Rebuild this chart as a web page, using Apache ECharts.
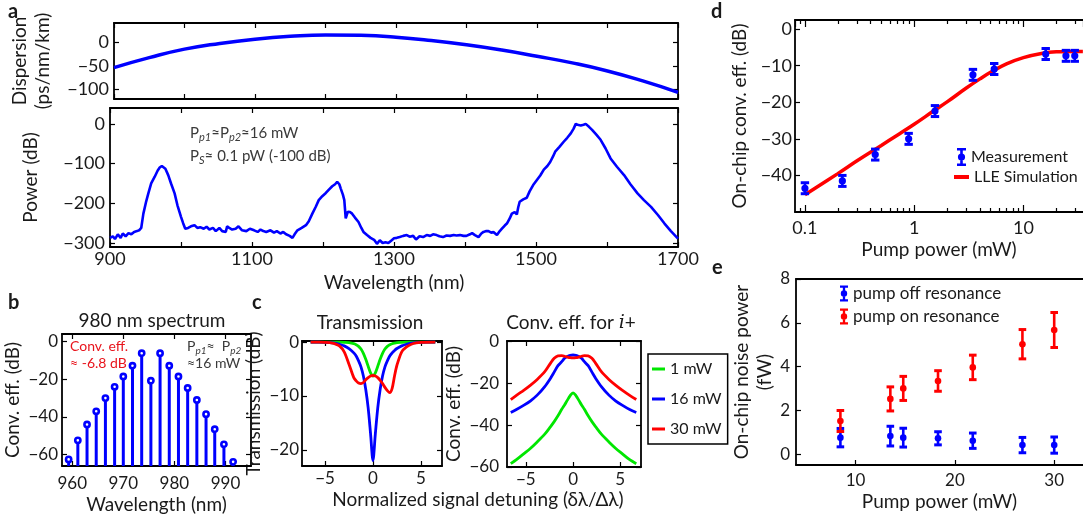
<!DOCTYPE html>
<html><head><meta charset="utf-8">
<script src="https://cdn.jsdelivr.net/npm/echarts@6.0.0/dist/echarts.min.js"></script>
<style>html,body{margin:0;padding:0;background:#fff}#c{width:1083px;height:517px}</style>
</head><body><div id="c"></div>
<script>
// ---------- DATA ----------
// panel a (top): dispersion
const dispWl  = [900,950,1000,1050,1100,1150,1200,1250,1300,1350,1400,1450,1500,1550,1600,1650,1700];
const dispVal = [-54,-33,-15,-3,6,12,15,14,10,3,-6,-17,-30,-44,-61,-82,-106];
// panel a (bottom): power spectrum
const powWl = [900,904,907,911,915,918,922,926,930,934,938,941,944,947,951,954,958,963,967,970,973,975,978,982,986,991,995,1000,1003,1006,1010,1014,1019,1023,1027,1032,1036,1040,1045,1049,1054,1058,1063,1065,1068,1072,1077,1081,1086,1092,1097,1103,1108,1112,1116,1120,1126,1131,1135,1140,1144,1148,1153,1157,1160,1164,1170,1176,1180,1185,1190,1194,1199,1204,1208,1213,1217,1220,1223,1225,1228,1230,1232,1235,1238,1241,1245,1250,1254,1257,1262,1267,1272,1276,1280,1284,1288,1292,1296,1300,1304,1308,1313,1318,1322,1327,1331,1336,1341,1346,1351,1355,1360,1364,1369,1374,1379,1384,1388,1393,1398,1402,1407,1410,1414,1419,1423,1426,1430,1433,1437,1440,1445,1449,1452,1456,1459,1463,1466,1470,1473,1475,1477,1482,1487,1491,1496,1501,1506,1511,1516,1520,1524,1527,1533,1539,1544,1549,1553,1556,1560,1563,1567,1570,1575,1579,1585,1591,1598,1605,1614,1624,1633,1643,1652,1662,1672,1681,1690,1700];
const powVal = [-287,-283,-290,-278,-287,-276,-283,-275,-278,-272,-270,-268,-262,-226,-195,-175,-150,-133,-118,-110,-106,-107,-113,-129,-150,-175,-205,-234,-250,-264,-262,-258,-255,-262,-260,-264,-259,-266,-262,-270,-262,-270,-272,-258,-262,-266,-264,-258,-268,-270,-264,-268,-272,-266,-270,-272,-268,-274,-270,-276,-272,-278,-282,-287,-278,-268,-262,-255,-245,-226,-208,-192,-182,-174,-166,-157,-152,-146,-152,-163,-178,-192,-238,-221,-222,-226,-236,-247,-262,-272,-280,-287,-292,-302,-293,-300,-298,-300,-294,-288,-287,-285,-282,-280,-284,-282,-291,-283,-285,-280,-282,-278,-280,-283,-285,-281,-282,-280,-281,-280,-282,-282,-278,-275,-280,-285,-276,-272,-270,-270,-274,-272,-280,-270,-264,-256,-251,-238,-226,-222,-228,-210,-196,-190,-186,-170,-154,-142,-130,-115,-106,-96,-82,-70,-58,-45,-35,-24,-12,0,-3,-4,-2,0,-8,-15,-27,-40,-62,-87,-108,-129,-152,-175,-192,-209,-230,-251,-270,-289];
// panel b: 980 nm spectrum (stems)
const bWl  = [959.3,961.1,962.9,964.7,966.5,968.3,970.0,971.8,973.6,975.4,977.2,979.0,980.8,982.6,984.4,986.2,987.9,989.7,991.5];
const bEff = [-62.5,-52.4,-44.0,-37.0,-30.0,-24.0,-18.5,-12.8,-6.2,-20.8,-6.2,-12.8,-18.5,-24.6,-31.0,-38.5,-46.5,-54.5,-63.8];
// panel c: transmission
const cTransX  = [-6.5,-5,-4.5,-4,-3.5,-3,-2.5,-2,-1.75,-1.5,-1.25,-1,-0.75,-0.5,-0.25,0,0.25,0.5,0.75,1,1.25,1.5,1.75,2,2.25,2.5,3,3.5,4,4.5,5,6.5];
const cTrans1  = [0,0,0,0,-0.02,-0.05,-0.1,-0.3,-0.5,-0.8,-1.3,-2.1,-3.2,-4.5,-5.7,-6.3,-5.7,-4.5,-3.2,-2.1,-1.3,-0.8,-0.5,-0.3,-0.18,-0.1,-0.05,-0.02,0,0,0,0];
const cTrans16 = [0,-0.05,-0.1,-0.2,-0.4,-0.7,-1.2,-2.0,-2.6,-3.5,-4.6,-6.3,-8.8,-12.2,-17,-22,-17,-12.2,-8.8,-6.3,-4.6,-3.5,-2.6,-2.0,-1.55,-1.2,-0.7,-0.4,-0.2,-0.1,-0.05,0];
const cTrans30 = [0,-0.05,-0.1,-0.3,-0.7,-1.8,-4.1,-6.6,-7.2,-7.6,-7.7,-7.5,-7.0,-6.6,-6.3,-6.2,-6.3,-6.6,-7.1,-7.7,-8.4,-9.0,-9.4,-8.6,-6.3,-4.3,-1.8,-0.9,-0.4,-0.15,-0.05,0];
// panel c: conversion efficiency for i+
const cConvX  = [-6.6,-6,-5.2,-4.5,-3.8,-3,-2.4,-2,-1.6,-1.2,-0.9,-0.6,-0.3,0,0.3,0.6,0.9,1.2,1.6,2,2.4,3,3.8,4.5,5.2,6,6.7];
const cConv1  = [-58.4,-56.5,-53.6,-51,-48,-44.3,-40.8,-38.3,-35.5,-32.4,-30.3,-28,-25.8,-24.5,-25.8,-28,-30.3,-32.4,-35.5,-38.3,-40.8,-44.3,-48,-51,-53.6,-56.5,-58.4];
const cConv16 = [-33.9,-32.5,-30.4,-28.3,-25.6,-21.5,-17.6,-14.6,-11.5,-9.6,-8.0,-7.1,-6.6,-6.4,-6.6,-7.1,-8.0,-9.6,-11.5,-14.6,-17.6,-21.5,-25.6,-28.3,-30.4,-32.5,-33.9];
const cConv30 = [-27.7,-25.7,-23.2,-20.8,-18.1,-14.4,-10.4,-8.0,-6.8,-6.7,-7.0,-7.4,-7.7,-7.8,-7.7,-7.4,-7.0,-6.7,-6.8,-8.0,-10.4,-14.4,-18.1,-20.8,-23.2,-25.7,-27.7];
// panel d: on-chip conversion efficiency vs pump power
const dPower = [0.1,0.22,0.44,0.89,1.55,3.45,5.4,16,24.5,29.5];
const dEff   = [-43.5,-41.5,-34.3,-30,-22.4,-12.5,-10.9,-6.8,-7.3,-7.3];
const dErr   = [1.5,1.5,1.5,1.5,1.5,1.5,1.5,1.5,1.5,1.5];
const dSimP  = [0.1,0.2,0.3,0.5,0.7,1,1.5,2,3,4,5,7,10,15,20,30,35];
const dSimEff= [-45.3,-39.5,-36,-31.8,-29,-26,-22.4,-19.9,-16.1,-13.6,-11.8,-9.5,-7.8,-6.6,-6.2,-6.1,-6.1];
// panel e: on-chip noise power
const ePower  = [8.47,13.5,14.8,18.3,21.8,26.8,30.0];
const eOff    = [0.75,0.82,0.75,0.72,0.61,0.41,0.41];
const eOffErr = [0.42,0.45,0.43,0.3,0.35,0.35,0.37];
const eOn     = [1.51,2.52,3.0,3.34,3.96,5.02,5.67];
const eOnErr  = [0.48,0.55,0.55,0.47,0.56,0.67,0.8];
// tick / label values
const aWlTicks = [900,1000,1100,1200,1300,1400,1500,1600,1700];
const aWlLabels = [900,1100,1300,1500,1700];
const aDispTicks = [-100,-50,0];
const aPowTicks = [-300,-200,-100,0];
const bWlTicks = [960,970,980,990];
const bEffTicks = [-60,-40,-20,0];
const cDetTicks = [-5,0,5];
const cTransTicks = [-20,-10,0];
const cConvTicks = [-60,-40,-20,0];
const dMinorTicks = [0.09,0.2,0.3,0.4,0.5,0.6,0.7,0.8,0.9,2,3,4,5,6,7,8,9,20,30];
const dEffTicks = [-40,-30,-20,-10,0];
const ePowTicks = [10,20,30];
const eNoiseTicks = [0,2,4,6,8];

// ---------- STYLE / HELPERS ----------
const BLUE='#0000ff', RED='#ff0000', GREEN='#00e600', GREY='#3a3a3a', TXT='#1a1a1a', FONT='Lato';
const fmtMinus = v => String(v).replace('-', '\u2212');
const grids=[], xAxis=[], yAxis=[], series=[], legend=[], graphic=[];
function grid(l,t,w,h){ grids.push({left:l,top:t,width:w,height:h}); return grids.length-1; }
function addAxis(list, gi, o, isX){
  const mk = (pos, main) => {
    const ax = {gridIndex:gi, type:o.type||'value', position:pos, min:o.min, max:o.max,
      axisLine:{show:o.noLine?false:true,onZero:false,lineStyle:{color:'#000',width:1.8}},
      splitLine:{show:false},
      axisTick:{show: main ? !o.noTicks : !o.mirrorNoTicks, inside:true, length:o.tickLen||5, lineStyle:{color:'#000',width:1.2}},
      axisLabel:{show: main && !!o.labels, fontSize:o.fs||16, color:TXT, fontFamily:FONT, margin:o.margin==null?5:o.margin, formatter:o.type==='log'?undefined:fmtMinus, hideOverlap:false},
      axisPointer:{show:false}
    };
    if(o.logBase) ax.logBase=o.logBase;
    if(o.type==='log'){ ax.axisLabel.showMinLabel=false; ax.axisLabel.showMaxLabel=false; }
    if(o.interval!=null) ax.interval=o.interval;
    if(o.ticks) ax.axisTick.customValues=o.ticks;
    if(o.labels && o.labels!==true) ax.axisLabel.customValues=o.labels;
    if(main && o.name){ ax.name=o.name; ax.nameLocation='middle'; ax.nameGap=o.nameGap; if(!isX) ax.nameRotate=90;
      ax.nameTextStyle={fontSize:o.nfs||19,color:TXT,fontFamily:FONT,lineHeight:o.nlh||23}; }
    return ax;
  };
  list.push(mk(isX?'bottom':'left', true)); const idx=list.length-1;
  if(o.mirror!==false) list.push(mk(isX?'top':'right', false));
  return idx;
}
const addX=(g,o)=>addAxis(xAxis,g,o,true), addY=(g,o)=>addAxis(yAxis,g,o,false);
const pairs=(xs,ys)=>xs.map((x,i)=>[x,ys[i]]);
function errRender(color, capHalf, r){
  return function(params, api){
    const x=api.value(0), y=api.value(1), e=api.value(2);
    const p=api.coord([x,y]), t=api.coord([x,y+e]), b=api.coord([x,y-e]);
    return {type:'group', children:[
      {type:'line', shape:{x1:p[0],y1:t[1],x2:p[0],y2:b[1]}, style:{stroke:color,lineWidth:2.6}},
      {type:'line', shape:{x1:p[0]-capHalf,y1:t[1],x2:p[0]+capHalf,y2:t[1]}, style:{stroke:color,lineWidth:3}},
      {type:'line', shape:{x1:p[0]-capHalf,y1:b[1],x2:p[0]+capHalf,y2:b[1]}, style:{stroke:color,lineWidth:3}},
      {type:'circle', shape:{cx:p[0],cy:p[1],r:r}, style:{fill:color}}
    ]};
  };
}
const ERR_ICON='path://M0,0H9V2.6H0Z M3.2,0H5.8V18H3.2Z M0,15.4H9V18H0Z M4.5,5.4A3.6,3.6,0,1,1,4.5,12.6A3.6,3.6,0,1,1,4.5,5.4Z';

// ---------- PANEL a (top) ----------
const gA1=grid(110,23,568,76);
const xA1=addX(gA1,{min:900,max:1700,ticks:aWlTicks,labels:null});
const yA1=addY(gA1,{min:-120,max:40,ticks:aDispTicks,labels:aDispTicks,fs:18,margin:5,name:'Dispersion\n(ps/nm/km)',nameGap:60,nlh:23});
series.push({type:'line',xAxisIndex:xA1,yAxisIndex:yA1,data:pairs(dispWl,dispVal),smooth:0.5,showSymbol:false,lineStyle:{color:BLUE,width:3.5},itemStyle:{color:BLUE},silent:true});
// ---------- PANEL a (bottom) ----------
const gA2=grid(110,108,568,139);
const xA2=addX(gA2,{min:900,max:1700,ticks:aWlTicks,labels:aWlLabels,fs:18,margin:3,name:'Wavelength (nm)',nameGap:24});
const yA2=addY(gA2,{min:-310,max:40,ticks:aPowTicks,labels:aPowTicks,fs:18,margin:5,name:'Power (dB)',nameGap:68});
series.push({type:'line',xAxisIndex:xA2,yAxisIndex:yA2,data:pairs(powWl,powVal),showSymbol:false,lineStyle:{color:BLUE,width:2.6},itemStyle:{color:BLUE},silent:true});

// ---------- PANEL b ----------
const gB=grid(62,334,189,132);
const xB=addX(gB,{min:958,max:995,ticks:bWlTicks,labels:bWlTicks,fs:17,margin:9,name:'Wavelength (nm)',nameGap:23});
const yB=addY(gB,{min:-66,max:4,ticks:bEffTicks,labels:bEffTicks,fs:17,margin:4,name:'Conv. eff. (dB)',nameGap:36});
series.push({type:'custom',xAxisIndex:xB,yAxisIndex:yB,data:pairs(bWl,bEff),itemStyle:{color:BLUE},silent:true,
  renderItem:function(params,api){
    const p=api.coord([api.value(0),api.value(1)]);
    const cs=params.coordSys, bottom=cs.y+cs.height;
    return {type:'group',children:[
      {type:'line',shape:{x1:p[0],y1:bottom,x2:p[0],y2:p[1]+3},style:{stroke:BLUE,lineWidth:3}},
      {type:'circle',shape:{cx:p[0],cy:p[1],r:2.6},style:{fill:'#fff',stroke:BLUE,lineWidth:2.6}}
    ]};
  }});

// ---------- PANEL c (left) ----------
const gC1=grid(302,341,140,125);
const xC1=addX(gC1,{min:-7.4,max:7.2,ticks:cDetTicks,labels:cDetTicks,fs:17,margin:4});
const yC1=addY(gC1,{min:-23,max:0.2,ticks:cTransTicks,labels:cTransTicks,fs:17,margin:3,name:'Transmission (dB)',nameGap:32});
[[cTrans1,'1 mW',GREEN],[cTrans16,'16 mW',BLUE],[cTrans30,'30 mW',RED]].forEach(([d,n,c])=>{
  series.push({type:'line',name:n,xAxisIndex:xC1,yAxisIndex:yC1,data:pairs(cTransX,d),smooth:0.3,showSymbol:false,lineStyle:{color:c,width:2.8},itemStyle:{color:c},silent:true});
});
// ---------- PANEL c (right) ----------
const gC2=grid(507,341,134,126);
const xC2=addX(gC2,{min:-7,max:7.2,ticks:cDetTicks,labels:cDetTicks,fs:17,margin:4});
const yC2=addY(gC2,{min:-60,max:0.3,ticks:cConvTicks,labels:cConvTicks,fs:17,margin:8,name:'Conv. eff. (dB)',nameGap:37});
[[cConv1,'1 mW',GREEN],[cConv16,'16 mW',BLUE],[cConv30,'30 mW',RED]].forEach(([d,n,c])=>{
  series.push({type:'line',name:n,xAxisIndex:xC2,yAxisIndex:yC2,data:pairs(cConvX,d),smooth:0.3,showSymbol:false,lineStyle:{color:c,width:2.8},itemStyle:{color:c},silent:true});
});
legend.push({left:648,top:354,orient:'vertical',data:['1 mW','16 mW','30 mW'],icon:'rect',itemWidth:13,itemHeight:3,itemGap:14,
  padding:[7,6,7,4],borderColor:'#000',borderWidth:1.5,selectedMode:false,textStyle:{fontSize:16,color:TXT,fontFamily:FONT}});

// ---------- PANEL d ----------
const gD=grid(795,20,290,192);
const dXmin=0.0811, dXmax=35.1;
const xD=addX(gD,{type:'log',logBase:10,min:dXmin,max:dXmax,labels:true,fs:18,margin:7,tickLen:7,name:'Pump power (mW)',nameGap:25});
// decorative minor-tick axis (log10 space) for the logarithmic scale
addX(gD,{min:Math.log10(dXmin),max:Math.log10(dXmax),ticks:dMinorTicks.map(Math.log10),labels:null,tickLen:4,noLine:true});
const yD=addY(gD,{min:-50,max:2.5,ticks:dEffTicks,labels:dEffTicks,fs:18,margin:3,name:'On-chip conv. eff. (dB)',nameGap:44,mirror:false});
series.push({type:'line',name:'LLE Simulation',xAxisIndex:xD,yAxisIndex:yD,data:pairs(dSimP,dSimEff),smooth:0.4,showSymbol:false,lineStyle:{color:RED,width:3.5},itemStyle:{color:RED},silent:true,z:1});
series.push({type:'custom',name:'Measurement',xAxisIndex:xD,yAxisIndex:yD,data:dPower.map((p,i)=>[p,dEff[i],dErr[i]]),
  encode:{x:0,y:1},itemStyle:{color:BLUE},renderItem:errRender(BLUE,4.2,3.6),silent:true,z:3});
legend.push({left:957,top:148,orient:'vertical',data:[{name:'Measurement',icon:ERR_ICON}],itemWidth:9,itemHeight:18,padding:0,selectedMode:false,textStyle:{fontSize:16,color:TXT,fontFamily:FONT}});
legend.push({left:954,top:169,orient:'vertical',data:[{name:'LLE Simulation',icon:'rect'}],itemWidth:15,itemHeight:4,padding:0,selectedMode:false,textStyle:{fontSize:16,color:TXT,fontFamily:FONT}});

// ---------- PANEL e ----------
const gE=grid(796,279,289,186);
const xE=addX(gE,{min:4,max:32.9,ticks:ePowTicks,labels:ePowTicks,fs:17,margin:7,mirrorNoTicks:true,name:'Pump power (mW)',nameGap:24});
const yE=addY(gE,{min:-0.5,max:8,ticks:eNoiseTicks,labels:eNoiseTicks,fs:17,margin:6,mirror:false,name:'On-chip noise power\n(fW)',nameGap:14,nlh:23});
series.push({type:'custom',name:'pump off resonance',xAxisIndex:xE,yAxisIndex:yE,data:ePower.map((p,i)=>[p,eOff[i],eOffErr[i]]),
  encode:{x:0,y:1},itemStyle:{color:BLUE},renderItem:errRender(BLUE,3.8,3.3),silent:true});
series.push({type:'custom',name:'pump on resonance',xAxisIndex:xE,yAxisIndex:yE,data:ePower.map((p,i)=>[p,eOn[i],eOnErr[i]]),
  encode:{x:0,y:1},itemStyle:{color:RED},renderItem:errRender(RED,3.8,3.3),silent:true});
legend.push({left:840,top:285,orient:'vertical',data:[{name:'pump off resonance',icon:ERR_ICON},{name:'pump on resonance',icon:ERR_ICON}],
  itemWidth:8,itemHeight:17,itemGap:6,padding:0,selectedMode:false,textStyle:{fontSize:17,color:TXT,fontFamily:FONT}});

// ---------- TEXT ----------
function txt(x,y,text,o){ o=o||{}; graphic.push({type:'text',x:x,y:y,silent:true,style:Object.assign({text:text,fill:o.fill||TXT,fontSize:o.fs||19,fontFamily:FONT,fontWeight:o.fw||'normal',textAlign:o.align||'left',textVerticalAlign:'middle'},o.style||{})}); }
txt(8,12,'a',{fw:'bold',fs:20}); txt(8,303,'b',{fw:'bold',fs:20}); txt(252,303,'c',{fw:'bold',fs:20});
txt(711,12,'d',{fw:'bold',fs:20}); txt(712,268,'e',{fw:'bold',fs:20});
txt(152,321,'980 nm spectrum',{align:'center'});
txt(370,323,'Transmission',{align:'center'});
txt(571,323,'',{align:'center',style:{text:'{n|Conv. eff. for }{i|i}{n|+}',rich:{n:{fontSize:19,fontFamily:FONT,fill:TXT},i:{fontSize:19,fontFamily:'DejaVu Serif',fontStyle:'italic',fill:TXT}}}});
txt(478,500,'Normalized signal detuning (\u03b4\u03bb/\u0394\u03bb)',{align:'center'});
const subRich=(f,s)=>({n:{fontSize:f,fontFamily:FONT,fill:GREY,lineHeight:20,verticalAlign:'middle'},s:{fontSize:s,fontFamily:FONT,fontStyle:'italic',fill:GREY,lineHeight:11,verticalAlign:'bottom'}});
txt(190,133,'',{style:{text:'{n|P}{s|p1}{n|\u2248P}{s|p2}{n|\u224816 mW}',rich:subRich(15,11)}});
txt(190,156,'',{style:{text:'{n|P}{s|S}{n|\u2248 0.1 pW (-100 dB)}',rich:subRich(15,11)}});
txt(70,346,'Conv. eff.',{fill:'#e8141c',fs:14});
txt(70,363,'\u2248 -6.8 dB',{fill:'#e8141c',fs:14});
txt(187,346,'',{style:{text:'{n|P}{s|p1}{n|\u2248  P}{s|p2}',rich:subRich(14,10)}});
txt(187,363,'\u224816 mW',{fill:GREY,fs:14});

const chart=echarts.init(document.getElementById('c'),null,{renderer:'canvas'});
chart.setOption({animation:false,textStyle:{fontFamily:FONT},grid:grids,xAxis:xAxis,yAxis:yAxis,series:series,legend:legend,graphic:graphic});
</script></body></html>
